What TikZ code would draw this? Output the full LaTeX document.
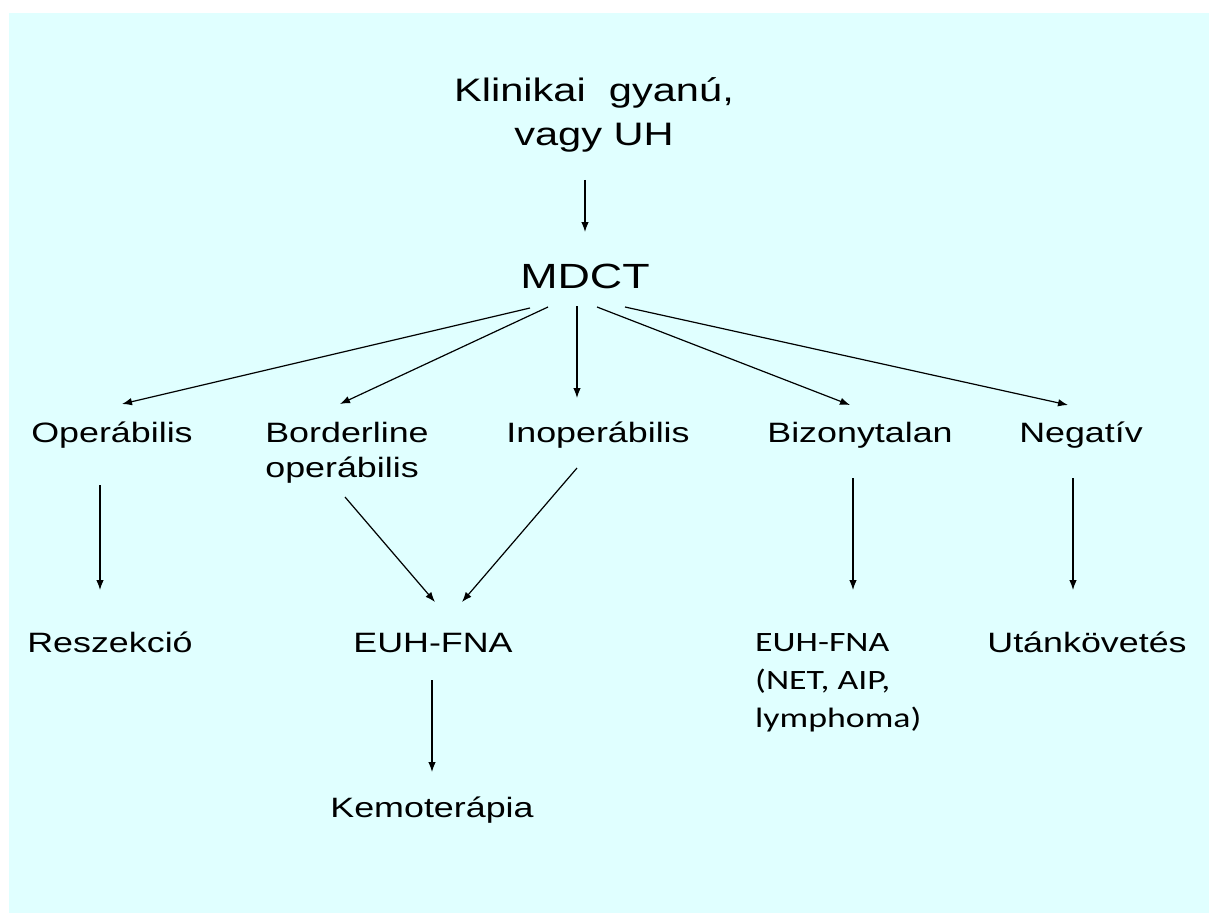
\documentclass[tikz,border=0pt]{standalone}
\usepackage{fontspec}
\setmainfont{Liberation Sans}[FakeStretch=1.28]
\newfontfamily\calibrifont{Carlito}[FakeStretch=1.28]
\usetikzlibrary{arrows.meta,positioning,calc}
\definecolor{slidebg}{RGB}{224,255,255}
\tikzset{
  lbl/.style={inner sep=0pt, anchor=base, font=\fontsize{28}{35}\selectfont},
  arr/.style={-{Latex[length=10pt,width=7.5pt]}, line width=1.2pt},
}

\begin{document}
\begin{tikzpicture}[x=1pt,y=-1pt]
  \useasboundingbox (0,0) rectangle (1209,913);
  \fill[slidebg] (9,13) rectangle (1209,913);

  % Define nodes
  \node[lbl, font=\fontsize{32.5}{44}\selectfont, align=center] (clin) at (594,145) {Klinikai\ \ gyanú,\\vagy UH};
  \node[lbl, font=\fontsize{35}{42}\selectfont] (mdct) at (585,288) {MDCT};
  \node[lbl] (oper) at (112,442) {Operábilis};
  \node[lbl, align=left] (border) at (347,477) {Borderline\\operábilis};
  \node[lbl] (inop) at (598,442) {Inoperábilis};
  \node[lbl] (bizony) at (860,442) {Bizonytalan};
  \node[lbl] (neg) at (1081,442) {Negatív};
  \node[lbl] (resz) at (110,652) {Reszekció};
  \node[lbl] (euh) at (433,652) {EUH-FNA};
  \node[lbl, font=\calibrifont\fontsize{28}{38}\selectfont, align=left, anchor=base west] (euhnet) at (755,727) {EUH-FNA\\(NET, AIP,\\lymphoma)};
  \node[lbl] (utan) at (1087,652) {Utánkövetés};
  \node[lbl] (kemo) at (432,817) {Kemoterápia};

  % Edges
  \draw[arr] ($(clin.south)+(-9,28)$) -- ($(mdct.base)+(0,-56)$);
  \draw[arr] ($(mdct.base)+(-55,20)$) -- ($(oper.base)+(10,-38)$);
  \draw[arr] ($(mdct.base)+(-37,19)$) -- ($(border.base)+(-7,-73)$);
  \draw[arr] ($(mdct.base)+(-8,18)$) -- ($(inop.base)+(-21,-44)$);
  \draw[arr] ($(mdct.base)+(12,19)$) -- ($(bizony.base)+(-10,-37)$);
  \draw[arr] ($(mdct.base)+(40,19)$) -- ($(neg.base)+(-13,-37)$);
  \draw[arr] ($(oper.base)+(-12,43)$) -- ($(resz.base)+(-10,-62)$);
  \draw[arr] ($(border.base)+(-2,20)$) -- ($(euh.base)+(2,-50)$);
  \draw[arr] ($(inop.base)+(-21,26)$) -- ($(euh.base)+(29,-50)$);
  \draw[arr] ($(euh.base)+(-1,28)$) -- ($(kemo.base)+(0,-45)$);
  \draw[arr] ($(bizony.base)+(-7,36)$) -- ($(euhnet.base west)+(98,-137)$);
  \draw[arr] ($(neg.base)+(-8,36)$) -- ($(utan.base)+(-14,-62)$);
\end{tikzpicture}
\end{document}
